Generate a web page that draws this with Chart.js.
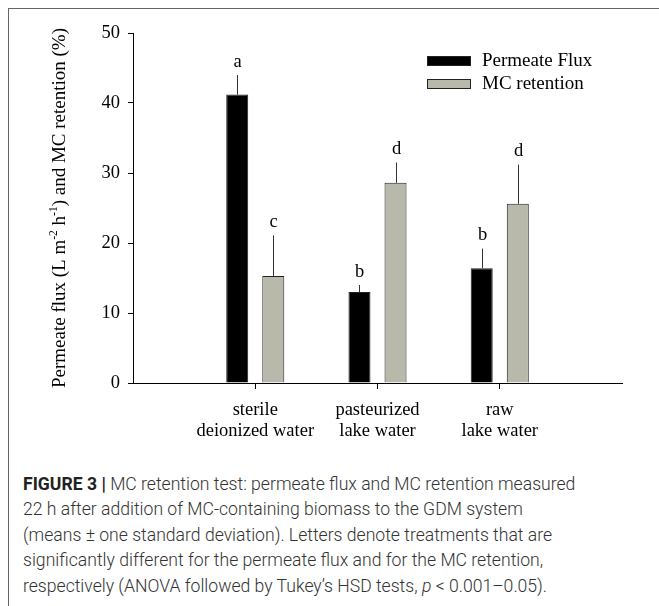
<!DOCTYPE html>
<html>
<head>
<meta charset="utf-8">
<script src="https://cdn.jsdelivr.net/npm/chart.js@4.4.0/dist/chart.umd.min.js"></script>
<style>
  html, body { margin: 0; padding: 0; background: #fff; }
  body { width: 659px; height: 606px; position: relative; overflow: hidden; }
  #frame { position: absolute; left: 8px; top: 8px; right: 0; bottom: 0; border-left: 1.5px solid #666; border-top: 1.5px solid #666; }
  #chart { position: absolute; left: 0; top: 0; }
  #caption { position: absolute; left: 23px; top: 472px; width: 630px; font: 300 17.6px Roboto, 'Liberation Sans', Arial, sans-serif; line-height: 25.4px; color: #333; white-space: nowrap; }
  #caption b { font-weight: 700; color: #222; }
</style>
</head>
<body>
<div id="frame"></div>
<canvas id="chart" width="659" height="470"></canvas>
<div id="caption"><b>FIGURE 3 |</b> MC retention test: permeate flux and MC retention measured<br>22 h after addition of MC-containing biomass to the GDM system<br>(means ± one standard deviation). Letters denote treatments that are<br>significantly different for the permeate flux and for the MC retention,<br>respectively (ANOVA followed by Tukey’s HSD tests, <i>p</i> &lt; 0.001–0.05).</div>
<script>
// valores
const categories = [['sterile', 'deionized water'], ['pasteurized', 'lake water'], ['raw', 'lake water']];
const fluxMeans = [41.2, 13.0, 16.4];
const fluxSD = [2.8, 1.0, 2.8];
const fluxLetters = ['a', 'b', 'b'];
const retentionMeans = [15.3, 28.6, 25.6];
const retentionSD = [5.8, 2.9, 5.6];
const retentionLetters = ['c', 'd', 'd'];
const yTicks = [0, 10, 20, 30, 40, 50];

// slots vazios nas pontas, como no original
const labels = ['', ...categories, ''];
const pad = arr => [null, ...arr, null];

const serif = "'Liberation Serif', 'Times New Roman', serif";

// barras de erro (so para cima) e letras
const errorBars = {
  id: 'errorBars',
  afterDatasetsDraw(chart) {
    const { ctx, scales: { y } } = chart;
    chart.data.datasets.forEach((ds, i) => {
      const meta = chart.getDatasetMeta(i);
      meta.data.forEach((bar, j) => {
        const v = ds.data[j];
        if (v == null) return;
        const top = y.getPixelForValue(v + ds.sd[j]);
        const x = Math.round(bar.x) + 0.5;
        ctx.save();
        ctx.strokeStyle = '#333';
        ctx.lineWidth = 1;
        ctx.beginPath();
        ctx.moveTo(x, bar.y);
        ctx.lineTo(x, top);
        ctx.stroke();
        ctx.fillStyle = '#000';
        ctx.font = '18.5px ' + serif;
        ctx.textAlign = 'center';
        ctx.textBaseline = 'bottom';
        ctx.fillText(ds.letters[j], x, top - 4);
        ctx.restore();
      });
    });
  }
};

// legenda dentro da area do grafico
const insideLegend = {
  id: 'insideLegend',
  afterDraw(chart) {
    const { ctx, chartArea } = chart;
    const x0 = chartArea.right - 195;
    const y0 = chartArea.top + 23;
    chart.data.datasets.forEach((ds, i) => {
      const yy = y0 + i * 23;
      ctx.save();
      ctx.fillStyle = ds.backgroundColor;
      ctx.fillRect(x0, yy, 44, 10);
      ctx.strokeStyle = ds.borderColor;
      ctx.lineWidth = 1;
      ctx.strokeRect(x0 + 0.5, yy + 0.5, 43, 9);
      ctx.fillStyle = '#000';
      ctx.font = '19px ' + serif;
      ctx.textBaseline = 'middle';
      ctx.fillText(ds.label, x0 + 55, yy + 5);
      ctx.restore();
    });
  }
};

// titulo do eixo y com sobrescritos
const yTitle = {
  id: 'yTitle',
  afterDraw(chart) {
    const { ctx, chartArea } = chart;
    const parts = [
      ['Permeate flux (L m', false], ['-2', true], [' h', false], ['-1', true], [') and MC retention (%)', false]
    ];
    const big = '19px ' + serif, small = '11.5px ' + serif;
    let total = 0;
    parts.forEach(p => { ctx.font = p[1] ? small : big; total += ctx.measureText(p[0]).width; });
    ctx.save();
    ctx.translate(60, (chartArea.top + chartArea.bottom) / 2);
    ctx.rotate(-Math.PI / 2);
    ctx.fillStyle = '#000';
    ctx.textBaseline = 'middle';
    let cx = -total / 2;
    parts.forEach(p => {
      ctx.font = p[1] ? small : big;
      ctx.fillText(p[0], cx, p[1] ? -6 : 0);
      cx += ctx.measureText(p[0]).width;
    });
    ctx.restore();
  }
};

new Chart(document.getElementById('chart'), {
  type: 'bar',
  data: {
    labels: labels,
    datasets: [{
      label: 'Permeate Flux',
      data: pad(fluxMeans),
      sd: pad(fluxSD),
      letters: pad(fluxLetters),
      backgroundColor: '#000',
      borderColor: '#222',
      borderWidth: 1
    }, {
      label: 'MC retention',
      data: pad(retentionMeans),
      sd: pad(retentionSD),
      letters: pad(retentionLetters),
      backgroundColor: '#b8b8ab',
      borderColor: '#222',
      borderWidth: 1
    }]
  },
  options: {
    responsive: false,
    animation: false,
    categoryPercentage: 0.59,
    barPercentage: 0.61,
    layout: { padding: { top: 33, right: 37, left: 0, bottom: 0 } },
    plugins: {
      legend: { display: false },
      tooltip: { enabled: false }
    },
    scales: {
      x: {
        offset: false,
        grid: {
          offset: false,
          drawOnChartArea: false,
          tickLength: 6,
          color: c => (c.index === 0 || c.index === labels.length - 1) ? 'rgba(0,0,0,0)' : '#000'
        },
        border: { color: '#000', width: 1 },
        ticks: { font: { family: serif, size: 18.5, lineHeight: 1.12 }, color: '#000', padding: 11, maxRotation: 0, autoSkip: false },
        afterFit: s => { s.height = 87; }
      },
      y: {
        min: 0,
        max: 50,
        afterBuildTicks: s => { s.ticks = yTicks.map(v => ({ value: v })); },
        grid: { drawOnChartArea: false, tickLength: 5, color: '#000' },
        border: { color: '#000', width: 1 },
        ticks: { font: { family: serif, size: 18.5 }, color: '#000', padding: 8 },
        afterFit: s => { s.width = 133; }
      }
    }
  },
  plugins: [errorBars, insideLegend, yTitle]
});
</script>
</body>
</html>
